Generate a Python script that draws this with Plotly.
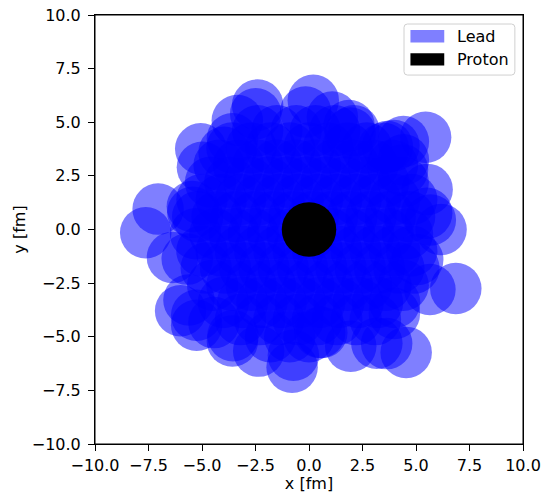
import plotly.graph_objects as go

# Visible outer lead nucleons (fm)
outer_x = [-7.05, -7.63, -6.38, -5.69, -6.00, -5.61, -5.25, -5.25, -4.44, -3.55,
           -3.58, -2.35, -0.79, -0.73, 0.60, 1.95, 3.17, 3.63, 4.54, 3.99,
           5.65, 6.86, 5.08, 6.17, 5.67, 5.50, 5.52, 4.37, 4.41, 5.45,
           4.41, 3.97, 3.66, 3.47, 1.92, 1.87, 1.09, 0.20, -0.16, -2.40,
           -2.49, -3.35, -3.58, -3.97, -5.06, -4.98, -5.43, -5.45]
outer_y = [0.95, -0.15, -1.30, -1.38, -3.79, -3.29, -4.46, -4.00, -4.34, -4.95,
           -5.20, -5.67, -6.42, -5.86, -4.80, -5.44, -5.30, -5.32, -5.73, -3.92,
           -2.80, -2.75, -1.40, 0.00, 0.44, 0.76, 1.87, 2.78, 3.25, 4.30,
           4.10, 3.92, 3.87, 3.79, 4.50, 4.85, 5.24, 6.02, 5.48, 5.80,
           5.40, 5.08, 4.23, 3.60, 3.76, 2.90, 0.80, 1.07]

# Hidden interior nucleons (estimated; fully overlapped in the picture)
inner_x = [-2.4, -1.5, -0.6, 0.3, 1.2, 2.1,
           -3.6, -2.7, -1.8, -0.9, 0.0, 0.9, 1.8, 2.7,
           -4.2, -3.3, -2.4, -1.5, -0.6, 0.3, 1.2, 2.1, 3.0, 3.9,
           -4.6, -3.7, -2.8, -1.9, -1.0, -0.1, 0.8, 1.7, 2.6, 3.5, 4.4,
           -5.0, -4.1, -3.2, -2.3, -1.4, -0.5, 0.4, 1.3, 2.2, 3.1, 4.0, 4.8,
           -5.2, -4.3, -3.4, -2.5, -1.6, -0.7, 0.2, 1.1, 2.0, 2.9, 3.8, 4.7,
           -5.3, -4.4, -3.5, -2.6, -1.7, -0.8, 0.1, 1.0, 1.9, 2.8, 3.7, 4.6,
           -5.0, -4.1, -3.2, -2.3, -1.4, -0.5, 0.4, 1.3, 2.2, 3.1, 4.0, 4.8,
           -4.8, -3.9, -3.0, -2.1, -1.2, -0.3, 0.6, 1.5, 2.4, 3.3, 4.2, 4.9,
           -4.5, -3.6, -2.7, -1.8, -0.9, 0.0, 0.9, 1.8, 2.7, 3.6, 4.4,
           -4.0, -3.1, -2.2, -1.3, -0.4, 0.5, 1.4, 2.3, 3.2, 4.0,
           -3.2, -2.3, -1.4, -0.5, 0.4, 1.3, 2.2, 3.1,
           -1.8, -0.9, 0.0, 0.5]
inner_y = [4.6] * 6 + [3.8] * 8 + [3.0] * 10 + [2.2] * 11 + [1.4] * 12 + \
          [0.6] * 12 + [-0.2] * 12 + [-1.0] * 12 + [-1.8] * 12 + [-2.6] * 11 + \
          [-3.4] * 10 + [-4.2] * 8 + [-5.0, -5.0, -5.0, -4.8]

lead_x = inner_x + outer_x
lead_y = inner_y + outer_y

proton_x = [0.0]
proton_y = [0.0]

tick_values = [-10.0, -7.5, -5.0, -2.5, 0.0, 2.5, 5.0, 7.5, 10.0]
tick_labels = ["\u221210.0", "\u22127.5", "\u22125.0", "\u22122.5", "0.0",
               "2.5", "5.0", "7.5", "10.0"]

legend_names = ["Lead", "Proton"]
legend_colors = ["rgba(0,0,255,0.5)", "black"]

FONT = "DejaVu Sans"
FS = 16

fig = go.Figure()
fig.add_trace(go.Scatter(
    x=lead_x, y=lead_y, mode="markers", name=legend_names[0], showlegend=False,
    hoverinfo="skip",
    marker=dict(size=51.5, color=legend_colors[0], line=dict(width=0)),
))
fig.add_trace(go.Scatter(
    x=proton_x, y=proton_y, mode="markers", name=legend_names[1], showlegend=False,
    hoverinfo="skip",
    marker=dict(size=54.5, color=legend_colors[1], line=dict(width=0)),
))

axis_common = dict(
    range=[-10, 10], tickvals=tick_values, ticktext=tick_labels,
    ticks="outside", ticklen=6, tickwidth=1, tickcolor="black",
    showline=True, linecolor="black", linewidth=1, mirror=True,
    showgrid=False, zeroline=False, automargin=False,
    ticklabeloverflow="allow",
    tickfont=dict(family=FONT, size=FS, color="black"),
)
fig.update_xaxes(**axis_common, ticklabelstandoff=1,
                 title=dict(text="x [fm]", standoff=3,
                            font=dict(family=FONT, size=FS, color="black")))
fig.update_yaxes(**axis_common, ticklabelstandoff=4,
                 title=dict(text="y [fm]", standoff=2,
                            font=dict(family=FONT, size=FS, color="black")))

# axes frame drawn explicitly on top (like matplotlib spines)
shapes = [dict(type="rect", xref="paper", yref="paper", x0=0, x1=1, y0=0, y1=1,
               line=dict(color="black", width=1), fillcolor="rgba(0,0,0,0)",
               layer="above")]

# matplotlib-style legend box (rounded frame, rectangular patches)
bx0, bx1, by0, by1 = 0.722, 0.981, 0.860, 0.979
rx, ry = 0.008, 0.008
frame = (f"M{bx0+rx},{by0} L{bx1-rx},{by0} Q{bx1},{by0} {bx1},{by0+ry} "
         f"L{bx1},{by1-ry} Q{bx1},{by1} {bx1-rx},{by1} L{bx0+rx},{by1} "
         f"Q{bx0},{by1} {bx0},{by1-ry} L{bx0},{by0+ry} Q{bx0},{by0} {bx0+rx},{by0} Z")
shapes.append(dict(type="path", xref="paper", yref="paper", path=frame,
                   fillcolor="rgba(255,255,255,0.8)", line=dict(color="#d0d0d0", width=1)))
annotations = []
patch_rows = [(0.965, 0.936), (0.911, 0.882)]
for name, col, (ytop, ybot) in zip(legend_names, legend_colors, patch_rows):
    shapes.append(dict(type="rect", xref="paper", yref="paper",
                       x0=0.737, x1=0.816, y0=ybot, y1=ytop,
                       fillcolor=col, line=dict(width=0)))
    annotations.append(dict(xref="paper", yref="paper", x=0.842, y=(ytop + ybot) / 2,
                            text=name, showarrow=False, xanchor="left", yanchor="middle",
                            font=dict(family=FONT, size=FS, color="black")))

fig.update_layout(
    width=543, height=493,
    margin=dict(l=95, r=20, t=15, b=49),
    plot_bgcolor="white", paper_bgcolor="white",
    font=dict(family=FONT, size=FS, color="black"),
    showlegend=False,
    shapes=shapes, annotations=annotations,
)

# remove the default page margin so the figure sits at the window's top-left corner
fig.write_html(
    "out.html",
    config={"displayModeBar": False},
    post_script="document.body.style.margin='0px';"
                "document.documentElement.style.overflow='hidden';",
)
